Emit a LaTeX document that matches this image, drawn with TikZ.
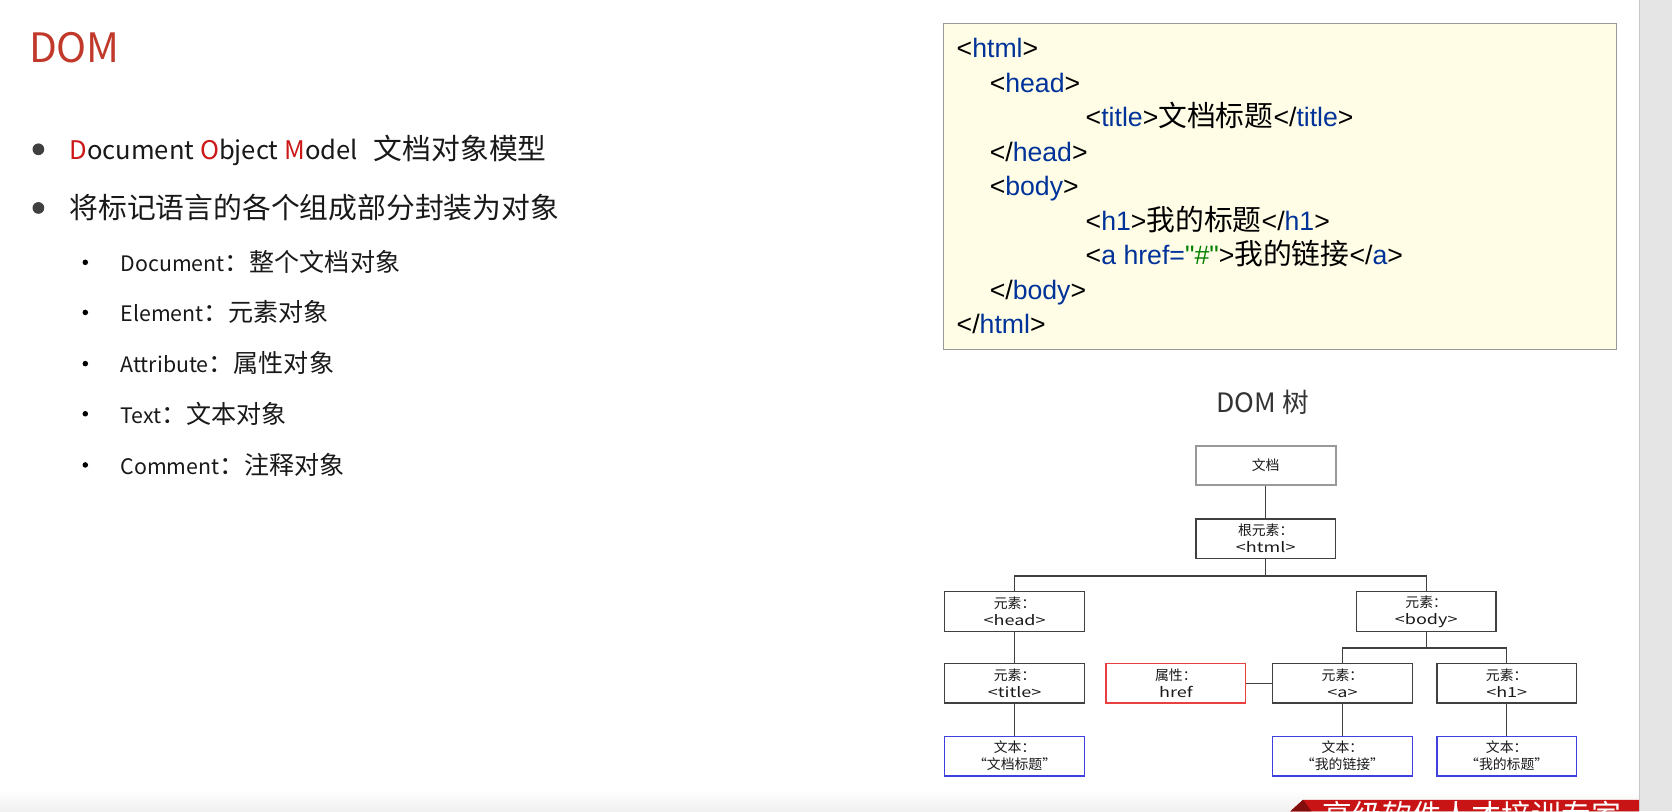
\documentclass[tikz,border=0pt]{standalone}
\usepackage{fontspec}
\setmainfont{Noto Sans CJK SC}
\newfontfamily\zhfont{Noto Sans CJK SC}
\newfontfamily\tagfont[FakeStretch=1.3]{Noto Sans CJK SC}
\newfontfamily\codefont{Liberation Sans}
\usepackage{xcolor}
\usetikzlibrary{positioning}
\definecolor{domred}{RGB}{192,57,43}
\definecolor{keyred}{RGB}{204,24,24}
\definecolor{inkgray}{RGB}{25,25,25}
\definecolor{dotgray}{RGB}{64,64,64}
\definecolor{tagblue}{RGB}{0,51,153}
\definecolor{strgreen}{RGB}{0,128,0}
\definecolor{codebg}{RGB}{255,253,230}
\definecolor{linegray}{RGB}{64,64,64}
\definecolor{attrred}{RGB}{232,64,64}
\definecolor{textblue}{RGB}{64,64,224}
\definecolor{bannerred}{RGB}{200,20,20}
\newcommand{\otag}[1]{<\textcolor{tagblue}{#1}>}
\newcommand{\ctag}[1]{</\textcolor{tagblue}{#1}>}
\newcommand{\codezh}[1]{{\zhfont\fontsize{27}{30}\selectfont #1}}
\newcommand{\entext}[2]{{\fontsize{#1}{30}\selectfont #2}}
\tikzset{
  elem/.style={draw=linegray, line width=1.3pt, minimum width=131pt, minimum height=37pt,
    inner sep=0pt, align=center, text=black!90, font=\fontsize{13}{16}\selectfont},
  docbox/.style={elem, draw=black!40, line width=2pt},
  attrbox/.style={elem, draw=attrred},
  textbox/.style={elem, draw=textblue},
  link/.style={draw=linegray, line width=1.3pt},
  codeline/.style={anchor=base west, inner sep=0pt, font=\codefont\fontsize{25}{30}\selectfont},
  mainitem/.style={anchor=base west, inner sep=0pt, text=inkgray, font=\fontsize{27}{30}\selectfont},
  subitem/.style={anchor=base west, inner sep=0pt, text=inkgray, font=\fontsize{23.5}{27}\selectfont}
}
\begin{document}
\begin{tikzpicture}[x=1pt,y=-1pt]
\useasboundingbox (0,0) rectangle (1568,761);
\clip (0,0) rectangle (1568,761);
\fill[white] (0,0) rectangle (1568,761);
\shade[top color=white, bottom color=black!6] (0,741) rectangle (1537,761);
\fill[black!10] (1537,0) rectangle (1568,761);
\draw[black!22] (1537,0) -- (1537,761);

\node[anchor=base west, inner sep=0pt, text=domred, font=\fontsize{38}{44}\selectfont] (dom) at (27,59) {DOM};

\fill[dotgray] (36,140) circle (5.5pt);
\fill[dotgray] (36,195) circle (5.5pt);
\node[mainitem] (m1) at (65,150) {\entext{24}{\textcolor{keyred}{D}ocument \textcolor{keyred}{O}bject \textcolor{keyred}{M}odel}\hspace{15pt}文档对象模型};
\node[mainitem] (m2) at (65,205) {将标记语言的各个组成部分封装为对象};
\foreach \y/\en/\zh [count=\i] in {246/Document/整个文档对象, 293/Element/元素对象,
    341/Attribute/属性对象, 388/Text/文本对象, 436/Comment/注释对象}{
  \fill[black] (80,\y) circle (2.6pt);
  \node[subitem] (s\i) at (113,\y+8.7) {\entext{20}{\en}：\zh};
}

\node[draw=black!40, line width=0.8pt, fill=codebg, minimum width=631pt, minimum height=306pt,
  inner sep=0pt] (code) at (1200.5,175) {};
\node[codeline] (c1) at (897,54) {\otag{html}};
\node[codeline] (c2) at (928,86.4) {\otag{head}};
\node[codeline] (c3) at (1018,118.8) {\otag{title}\codezh{文档标题}\ctag{title}};
\node[codeline] (c4) at (928,151.2) {\ctag{head}};
\node[codeline] (c5) at (928,183.6) {\otag{body}};
\node[codeline] (c6) at (1018,216) {\otag{h1}\codezh{我的标题}\ctag{h1}};
\node[codeline] (c7) at (1018,248.4) {<\textcolor{tagblue}{a href=}\textcolor{strgreen}{"\#"}>\codezh{我的链接}\ctag{a}};
\node[codeline] (c8) at (928,280.8) {\ctag{body}};
\node[codeline] (c9) at (897,313.2) {\ctag{html}};

\node[text=black!80, font=\fontsize{25}{28}\selectfont] (tree) at (1184,377) {DOM 树};

\node[docbox] (doc) at (1187,436.5) {文档};
\node[elem, below=30pt of doc] (html) {根元素：\\{\tagfont <html>}};
\node[elem, below=30pt of html, xshift=-235.5pt] (head) {元素：\\{\tagfont <head>}};
\node[elem, below=30pt of html, xshift=150.5pt] (body) {元素：\\{\tagfont <body>}};
\node[elem, below=29pt of head] (title) {元素：\\{\tagfont <title>}};
\node[elem, below=29pt of body, xshift=-78.5pt] (a) {元素：\\{\tagfont <a>}};
\node[elem, below=29pt of body, xshift=75.5pt] (h1) {元素：\\{\tagfont <h1>}};
\node[attrbox, left=24pt of a] (href) {属性：\\{\tagfont href}};
\node[textbox, below=30pt of title] (ttitle) {文本：\\“文档标题”};
\node[textbox, below=30pt of a] (tlink) {文本：\\“我的链接”};
\node[textbox, below=30pt of h1] (thead) {文本：\\“我的标题”};

\coordinate (hsplit) at ([yshift=-16pt]html.south);
\coordinate (bsplit) at ([yshift=-15pt]body.south);
\draw[link] (doc) -- (html);
\draw[link] (html) -- (hsplit);
\draw[link] (head.north) |- (hsplit) -| (body.north);
\draw[link] (body) -- (bsplit);
\draw[link] (a.north) |- (bsplit) -| (h1.north);
\draw[link] (head) -- (title);
\draw[link] (title) -- (ttitle);
\draw[link] (href) -- (a);
\draw[link] (a) -- (tlink);
\draw[link] (h1) -- (thead);

\fill[bannerred] (1222,750) -- (1537,750) -- (1537,761) -- (1210,761) -- cycle;
\fill[bannerred!65!black] (1210,761) -- (1222,750) -- (1230,761) -- cycle;
\node[anchor=base west, inner sep=0pt, text=white, font=\fontsize{28}{30}\selectfont] (slogan) at (1240,775) {高级软件人才培训专家};
\end{tikzpicture}
\end{document}
